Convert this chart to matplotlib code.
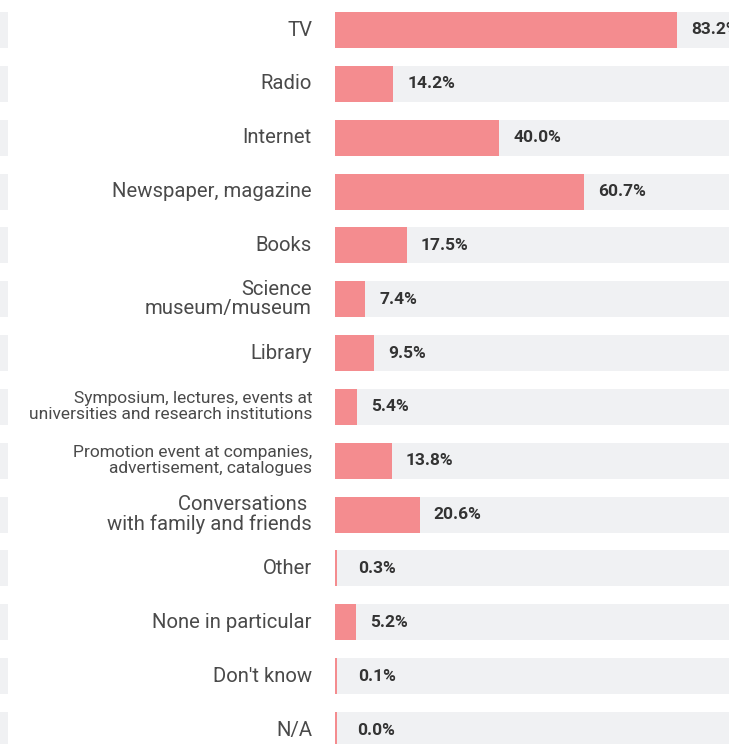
import numpy as np
import matplotlib.pyplot as plt

# Data
categories = [
    "TV", "Radio", "Internet", "Newspaper, magazine", "Books",
    "Science\nmuseum/museum", "Library",
    "Symposium, lectures, events at\nuniversities and research institutions",
    "Promotion event at companies,\nadvertisement, catalogues",
    "Conversations \nwith family and friends",
    "Other", "None in particular", "Don't know", "N/A",
]
values = [83.2, 14.2, 40.0, 60.7, 17.5, 7.4, 9.5, 5.4, 13.8, 20.6, 0.3, 5.2, 0.1, 0.0]
small_label = [False] * 7 + [True, True] + [False] * 5

bar_color = "#F48C8F"
band_color = "#F0F1F3"
label_color = "#4a4a4a"
value_color = "#333333"

W, H = 729, 744
fig = plt.figure(figsize=(W / 100, H / 100), dpi=100)

# axes: x=0 at pixel 335, 100% at pixel 746
x0_px, px_per_pct = 335, 4.11
pitch, first_c = 53.85, 30
ax = fig.add_axes([x0_px / W, 0, 100 * px_per_pct / W, 1])
ax.set_xlim(0, 100)
ax.set_ylim((H - first_c) / pitch, -first_c / pitch)
ax.axis("off")

y = np.arange(len(categories))
h = 36 / pitch

# background bands (right part and the small piece at left edge)
ax.barh(y, 100, height=h, color=band_color, zorder=1, clip_on=False)
ax.barh(y, 8 / px_per_pct, left=-x0_px / px_per_pct, height=h,
        color=band_color, zorder=1, clip_on=False)
# thin edge kept visible for near-zero values
ax.barh(y, np.maximum(values, 0.4), height=h, color=bar_color, zorder=2)

label_x = (312 - x0_px) / px_per_pct
for yi, cat, v, sm in zip(y, categories, values, small_label):
    ax.text(label_x, yi, cat, ha="right", va="center", multialignment="right",
            fontsize=12.5 if sm else 14.6, color=label_color,
            family="Roboto", linespacing=1.08 if sm else 1.02, clip_on=False)
    ax.text(v + 14 / px_per_pct + (2 if v < 1 else 0), yi, f"{v:.1f}%",
            ha="left", va="center", fontsize=12.5, fontweight="bold",
            color=value_color, family="Roboto", clip_on=False)

fig.savefig("out.png", dpi=100)
